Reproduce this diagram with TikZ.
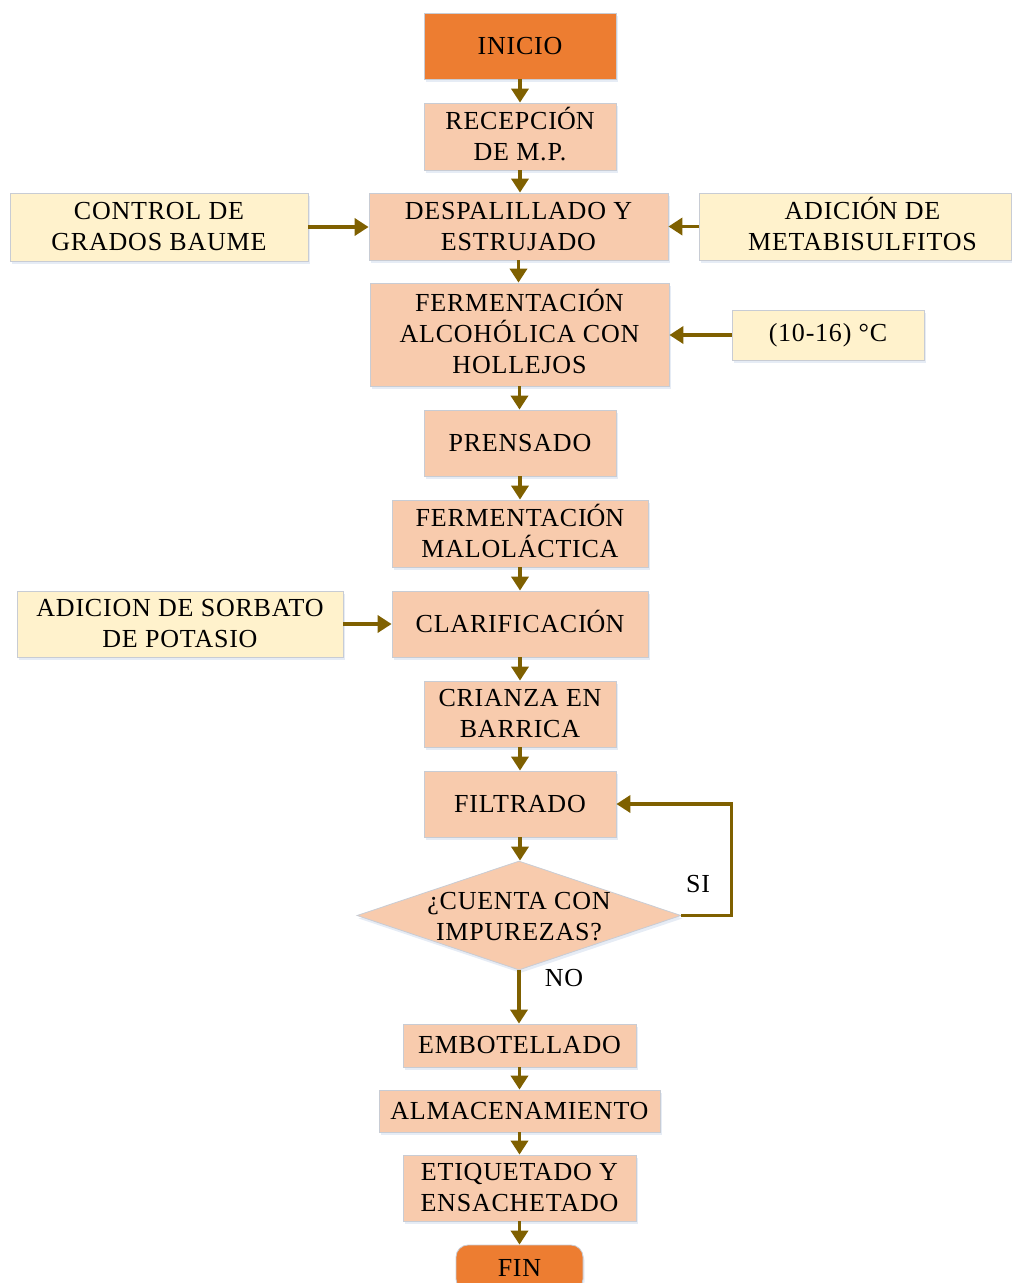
\documentclass[tikz,border=0pt]{standalone}
\usepackage{fontspec}
\setmainfont[LetterSpace=3]{Liberation Serif}
\usetikzlibrary{shapes.geometric,arrows.meta,shadows}
\definecolor{orangec}{HTML}{ED7D31}
\definecolor{peach}{HTML}{F8CBAD}
\definecolor{creamc}{HTML}{FFF2CC}
\definecolor{arrowc}{HTML}{7F6000}
\definecolor{borderc}{HTML}{C8CCD4}
\definecolor{shadowc}{HTML}{9DB3D6}
\tikzset{
  base/.style={rectangle, draw=borderc, line width=0.8pt, align=center, inner sep=0pt,
    font=\fontsize{26}{31}\selectfont,
    drop shadow={opacity=0.25, fill=shadowc, shadow xshift=1.5pt, shadow yshift=-3pt}},
  procbox/.style={base, fill=peach},
  inbox/.style={base, fill=creamc},
  termbox/.style={base, fill=orangec},
  arr/.style={draw=arrowc, line width=3.5pt, -{Triangle[length=14pt,width=17pt]}},
  lbl/.style={font=\fontsize{26}{31}\selectfont, inner sep=0pt}
}
\begin{document}
\begin{tikzpicture}[x=1pt,y=-1pt]
\useasboundingbox (0,0) rectangle (1012,1283);
\node[termbox, minimum width=192pt, minimum height=66pt] (inicio) at (520,46) {INICIO};
\node[procbox, minimum width=192pt, minimum height=67pt] (recep) at (520,136.5) {RECEPCI\smash{Ó}N\\DE M.P.};
\node[procbox, minimum width=299pt, minimum height=67pt] (desp) at (518.5,226.5) {DESPALILLADO Y\\ESTRUJADO};
\node[inbox, minimum width=298pt, minimum height=68pt] (control) at (159,227) {CONTROL DE\\GRADOS BAUME};
\node[inbox, minimum width=312pt, minimum height=67pt] (metab) at (855.5,226.5) {\hspace*{14pt}ADICI\smash{Ó}N DE\\\hspace*{14pt}METABISULFITOS};
\node[procbox, minimum width=299pt, minimum height=103pt] (ferm) at (519.5,334.5) {FERMENTACI\smash{Ó}N\\ALCOHÓLICA CON\\HOLLEJOS};
\node[inbox, minimum width=192pt, minimum height=50pt] (temp) at (828,335) {(10-16) °C};
\node[procbox, minimum width=192pt, minimum height=66pt] (prens) at (520,443) {PRENSADO};
\node[procbox, minimum width=256pt, minimum height=67pt] (malo) at (520,533.5) {FERMENTACI\smash{Ó}N\\MALOLÁCTICA};
\node[procbox, minimum width=256pt, minimum height=66pt] (clar) at (520,624) {CLARIFICACI\smash{Ó}N};
\node[inbox, minimum width=326pt, minimum height=66pt] (sorb) at (180,624) {ADICION DE SORBATO\\DE POTASIO};
\node[procbox, minimum width=192pt, minimum height=66pt] (crianza) at (520,714) {CRIANZA EN\\BARRICA};
\node[procbox, minimum width=192pt, minimum height=66pt] (filt) at (520,804) {FILTRADO};
\node[diamond, draw=borderc, line width=0.8pt, fill=peach, minimum width=324pt, minimum height=109pt, inner sep=0pt, aspect=3,
  drop shadow={opacity=0.25, fill=shadowc, shadow xshift=1.5pt, shadow yshift=-3pt}] (dec) at (519,915.5) {};
\node[lbl, align=center] (dectext) at (519,916.5) {¿CUENTA CON\\IMPUREZAS?};
\node[procbox, minimum width=233pt, minimum height=43pt] (embo) at (519.5,1045.5) {EMBOTELLADO};
\node[procbox, minimum width=281pt, minimum height=42pt] (alma) at (519.5,1111) {ALMACENAMIENTO};
\node[procbox, minimum width=233pt, minimum height=66pt] (etiq) at (519.5,1188) {ETIQUETADO Y\\ENSACHETADO};
\node[termbox, rounded corners=12pt, minimum width=127pt, minimum height=46pt] (fin) at (519.5,1268) {FIN};
\node[lbl] (si) at (698,884) {SI};
\node[lbl] (no) at (564,978) {NO};
\draw[arr] (inicio.south) -- (recep.north);
\draw[arr] (recep.south) -- (recep.south |- desp.north);
\draw[arr] (desp.south) -- (desp.south |- ferm.north);
\draw[arr] (control.east) -- (control.east -| desp.west);
\draw[arr] (metab.west) -- (metab.west -| desp.east);
\draw[arr] (ferm.south) -- (ferm.south |- prens.north);
\draw[arr] (temp.west) -- (temp.west -| ferm.east);
\draw[arr] (prens.south) -- (malo.north);
\draw[arr] (malo.south) -- (clar.north);
\draw[arr] (sorb.east) -- (sorb.east -| clar.west);
\draw[arr] (clar.south) -- (crianza.north);
\draw[arr] (crianza.south) -- (filt.north);
\draw[arr] (filt.south) -- (filt.south |- dec.north);
\draw[arr] (dec.east) -- ++(50,0) |- (filt.east);
\draw[arr] (dec.south) -- (dec.south |- embo.north);
\draw[arr] (embo.south) -- (embo.south |- alma.north);
\draw[arr] (alma.south) -- (alma.south |- etiq.north);
\draw[arr] (etiq.south) -- (etiq.south |- fin.north);
\end{tikzpicture}
\end{document}
